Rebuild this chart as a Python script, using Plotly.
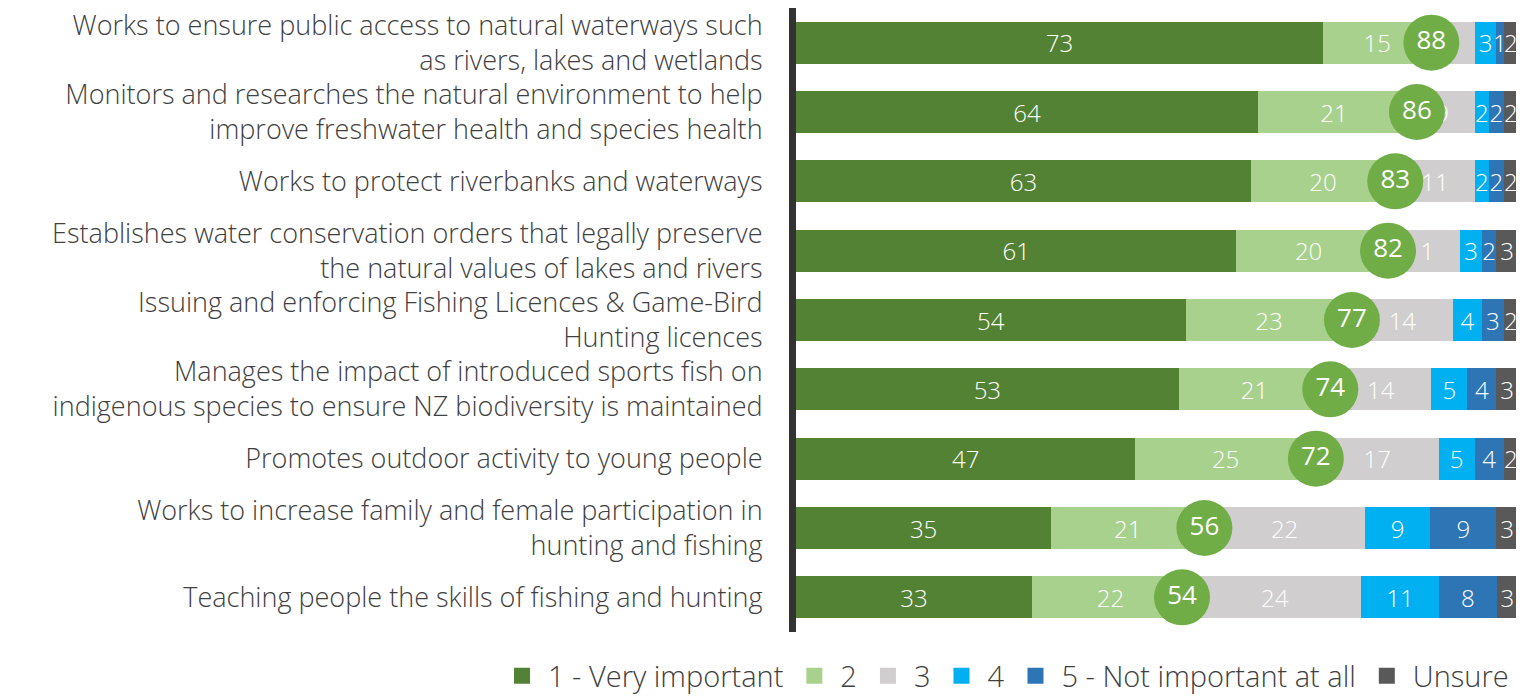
import plotly.graph_objects as go

categories = [
    "Works to ensure public access to natural waterways such<br>as rivers, lakes and wetlands",
    "Monitors and researches the natural environment to help<br>improve freshwater health and species health",
    "Works to protect riverbanks and waterways",
    "Establishes water conservation orders that legally preserve<br>the natural values of lakes and rivers",
    "Issuing and enforcing Fishing Licences & Game-Bird<br>Hunting licences",
    "Manages the impact of introduced sports fish on<br>indigenous species to ensure NZ biodiversity is maintained",
    "Promotes outdoor activity to young people",
    "Works to increase family and female participation in<br>hunting and fishing",
    "Teaching people the skills of fishing and hunting",
]

very_important = [73, 64, 63, 61, 54, 53, 47, 35, 33]
two = [15, 21, 20, 20, 23, 21, 25, 21, 22]
three = [6, 9, 11, 11, 14, 14, 17, 22, 24]
four = [3, 2, 2, 3, 4, 5, 5, 9, 11]
not_important = [1, 2, 2, 2, 3, 4, 4, 9, 8]
unsure = [2, 2, 2, 3, 2, 3, 2, 3, 3]
top2 = [88, 86, 83, 82, 77, 74, 72, 56, 54]

series = [
    ("1 - Very important", very_important, "#548235"),
    ("2", two, "#A9D18E"),
    ("3", three, "#D0CECE"),
    ("4", four, "#00B0F0"),
    ("5 - Not important at all", not_important, "#2E75B6"),
    ("Unsure", unsure, "#595959"),
]

FONT = "Open Sans"

fig = go.Figure()
for name, vals, color in series:
    fig.add_trace(go.Bar(
        y=categories, x=vals, name=name, orientation="h",
        marker=dict(color=color, line=dict(width=0)),
        text=[str(v) for v in vals], textposition="inside",
        insidetextanchor="middle", constraintext="none", textangle=0,
        textfont=dict(color="white", size=24, family=FONT, weight=300),
        hoverinfo="skip", showlegend=False, legendgroup=name,
    ))

row_totals = [sum(s[1][i] for s in series) for i in range(len(categories))]
circle_x = [top2[i] / row_totals[i] * 100 for i in range(len(categories))]

fig.add_trace(go.Scatter(
    y=categories, x=circle_x, mode="markers+text",
    marker=dict(size=56, color="#70AD47", line=dict(width=0)),
    text=[str(v) for v in top2], textposition="middle center",
    textfont=dict(color="white", size=26, family=FONT),
    showlegend=False, hoverinfo="skip",
))

# legend entries with larger square swatches
for name, vals, color in series:
    fig.add_trace(go.Scatter(
        x=[None], y=[None], mode="markers", name=name, legendgroup=name,
        marker=dict(symbol="square", size=21, color=color, line=dict(width=0)),
        hoverinfo="skip",
    ))

fig.update_layout(
    width=1516, height=688,
    barmode="stack", barnorm="percent", bargap=0.39,
    plot_bgcolor="white", paper_bgcolor="white",
    margin=dict(l=788, r=6, t=0, b=64, autoexpand=False),
    font=dict(family=FONT, color="#404040"),
    showlegend=True,
    legend=dict(
        orientation="h",
        x=-0.4155, xanchor="left",
        y=-0.0705, yanchor="middle",
        font=dict(size=29, color="#404040", family=FONT, weight=300),
        traceorder="normal", itemwidth=42, tracegroupgap=0,
    ),
)
fig.update_xaxes(range=[0, 100], visible=False, fixedrange=True)
fig.update_yaxes(
    categoryorder="array", categoryarray=categories,
    range=[len(categories) - 0.5, -0.5], autorange=False,
    showline=True, linewidth=7, linecolor="#333333",
    ticks="", showgrid=False, zeroline=False, automargin=False,
    tickfont=dict(size=27, color="#404040", family=FONT, weight=300),
    ticklabelstandoff=21,
)

fig.write_html("out.html")
